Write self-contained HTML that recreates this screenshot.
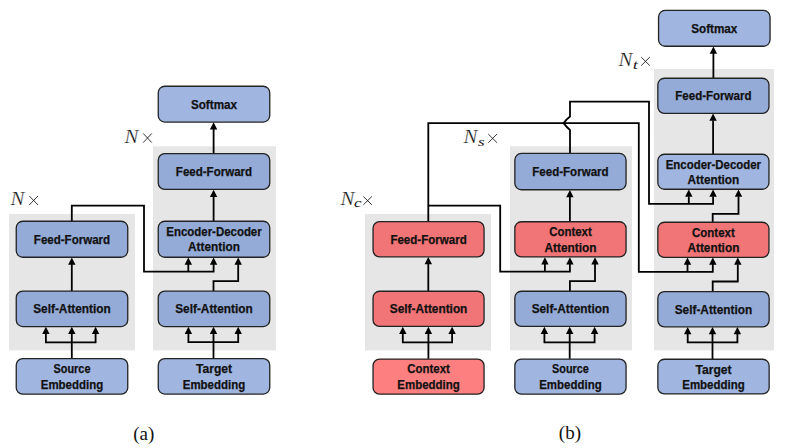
<!DOCTYPE html>
<html><head><meta charset="utf-8"><style>
html,body{margin:0;padding:0;background:#fff;}
body{width:785px;height:448px;overflow:hidden;}
svg{display:block;}
text{font-family:"Liberation Sans",sans-serif;font-weight:bold;text-anchor:middle;fill:#111;stroke:#111;stroke-width:0.25px;}
text.m{font-family:"Liberation Serif",serif;font-style:italic;font-weight:normal;text-anchor:start;fill:#111;}
text.cap{font-family:"Liberation Serif",serif;font-weight:normal;text-anchor:middle;fill:#111;stroke:none;}
</style></head><body>
<svg width="785" height="448" viewBox="0 0 785 448">
<rect width="785" height="448" fill="#fff"/>
<rect x="9" y="214" width="126.00" height="136.40" fill="#e6e6e6"/>
<rect x="153" y="146.3" width="123.00" height="204.10" fill="#e6e6e6"/>
<path d="M71.8,358.5 V334 M45.9,334 V342.4 H95.6 V334" fill="none" stroke="#000" stroke-width="1.8" stroke-linejoin="miter" stroke-linecap="butt"/>
<path d="M45.90,326.80 L42.20,334.00 L49.60,334.00 Z" fill="#000"/>
<path d="M71.80,326.80 L68.10,334.00 L75.50,334.00 Z" fill="#000"/>
<path d="M95.60,326.80 L91.90,334.00 L99.30,334.00 Z" fill="#000"/>
<path d="M71.8,291 V264" fill="none" stroke="#000" stroke-width="1.8" stroke-linejoin="miter" stroke-linecap="butt"/>
<path d="M71.80,257.50 L68.10,264.70 L75.50,264.70 Z" fill="#000"/>
<path d="M71.8,221 V205.7 H144 V271.6 H213.6 V264 M188.3,271.6 V264" fill="none" stroke="#000" stroke-width="1.8" stroke-linejoin="miter" stroke-linecap="butt"/>
<path d="M188.30,257.50 L184.60,264.70 L192.00,264.70 Z" fill="#000"/>
<path d="M213.60,257.50 L209.90,264.70 L217.30,264.70 Z" fill="#000"/>
<path d="M213.5,358.5 V334 M188.4,334 V342.2 H238.2 V334" fill="none" stroke="#000" stroke-width="1.8" stroke-linejoin="miter" stroke-linecap="butt"/>
<path d="M188.40,326.80 L184.70,334.00 L192.10,334.00 Z" fill="#000"/>
<path d="M213.50,326.80 L209.80,334.00 L217.20,334.00 Z" fill="#000"/>
<path d="M238.20,326.80 L234.50,334.00 L241.90,334.00 Z" fill="#000"/>
<path d="M213.5,291 V281.2 H238.2 V264" fill="none" stroke="#000" stroke-width="1.8" stroke-linejoin="miter" stroke-linecap="butt"/>
<path d="M238.20,257.50 L234.50,264.70 L241.90,264.70 Z" fill="#000"/>
<path d="M213.6,221 V196.5" fill="none" stroke="#000" stroke-width="1.8" stroke-linejoin="miter" stroke-linecap="butt"/>
<path d="M213.60,189.70 L209.90,196.90 L217.30,196.90 Z" fill="#000"/>
<path d="M213.6,153.4 V129" fill="none" stroke="#000" stroke-width="1.8" stroke-linejoin="miter" stroke-linecap="butt"/>
<path d="M213.60,122.30 L209.90,129.50 L217.30,129.50 Z" fill="#000"/>
<rect x="16.25" y="221.25" width="111.50" height="36.00" rx="6.5" fill="#94abd7" stroke="#222" stroke-width="1.3"/>
<text x="72.00" y="243.85" textLength="76.3" lengthAdjust="spacingAndGlyphs" font-size="12.4">Feed-Forward</text>
<rect x="16.25" y="291.05" width="111.50" height="35.50" rx="6.5" fill="#94abd7" stroke="#222" stroke-width="1.3"/>
<text x="72.00" y="313.40" textLength="77.6" lengthAdjust="spacingAndGlyphs" font-size="12.4">Self-Attention</text>
<rect x="16.25" y="358.55" width="111.50" height="35.60" rx="6.5" fill="#a0b6e0" stroke="#222" stroke-width="1.3"/>
<text x="72.00" y="372.80" textLength="36.9" lengthAdjust="spacingAndGlyphs" font-size="12.4">Source</text>
<text x="72.00" y="388.70" textLength="62.5" lengthAdjust="spacingAndGlyphs" font-size="12.4">Embedding</text>
<rect x="158.25" y="86.25" width="111.50" height="35.80" rx="6.5" fill="#a0b6e0" stroke="#222" stroke-width="1.3"/>
<text x="214.00" y="108.75" textLength="46.2" lengthAdjust="spacingAndGlyphs" font-size="12.4">Softmax</text>
<rect x="158.25" y="153.55" width="111.50" height="35.90" rx="6.5" fill="#94abd7" stroke="#222" stroke-width="1.3"/>
<text x="214.00" y="176.10" textLength="76.3" lengthAdjust="spacingAndGlyphs" font-size="12.4">Feed-Forward</text>
<rect x="158.25" y="221.25" width="111.50" height="36.00" rx="6.5" fill="#94abd7" stroke="#222" stroke-width="1.3"/>
<text x="214.00" y="235.50" textLength="95.4" lengthAdjust="spacingAndGlyphs" font-size="12.4">Encoder-Decoder</text>
<text x="214.00" y="251.40" textLength="51.8" lengthAdjust="spacingAndGlyphs" font-size="12.4">Attention</text>
<rect x="158.25" y="291.15" width="111.50" height="35.40" rx="6.5" fill="#94abd7" stroke="#222" stroke-width="1.3"/>
<text x="214.00" y="313.45" textLength="77.6" lengthAdjust="spacingAndGlyphs" font-size="12.4">Self-Attention</text>
<rect x="158.25" y="358.65" width="111.50" height="35.40" rx="6.5" fill="#a0b6e0" stroke="#222" stroke-width="1.3"/>
<text x="214.00" y="372.90" textLength="36.0" lengthAdjust="spacingAndGlyphs" font-size="12.4">Target</text>
<text x="214.00" y="388.80" textLength="62.5" lengthAdjust="spacingAndGlyphs" font-size="12.4">Embedding</text>
<rect x="365" y="214" width="126.00" height="136.40" fill="#e6e6e6"/>
<rect x="510" y="146.3" width="122.00" height="204.10" fill="#e6e6e6"/>
<rect x="654" y="69" width="120.00" height="281.40" fill="#e6e6e6"/>
<path d="M428.4,358.8 V334 M402.8,334 V342.4 H452.1 V334" fill="none" stroke="#000" stroke-width="1.8" stroke-linejoin="miter" stroke-linecap="butt"/>
<path d="M402.80,326.70 L399.10,333.90 L406.50,333.90 Z" fill="#000"/>
<path d="M428.40,326.70 L424.70,333.90 L432.10,333.90 Z" fill="#000"/>
<path d="M452.10,326.70 L448.40,333.90 L455.80,333.90 Z" fill="#000"/>
<path d="M428.3,291 V264" fill="none" stroke="#000" stroke-width="1.8" stroke-linejoin="miter" stroke-linecap="butt"/>
<path d="M428.30,257.10 L424.60,264.30 L432.00,264.30 Z" fill="#000"/>
<path d="M428.3,221.4 V123.1 H638.8 V271.8 H712.8 V264 M687.5,271.8 V264" fill="none" stroke="#000" stroke-width="1.8" stroke-linejoin="miter" stroke-linecap="butt"/>
<path d="M687.50,257.60 L683.80,264.80 L691.20,264.80 Z" fill="#000"/>
<path d="M712.80,257.60 L709.10,264.80 L716.50,264.80 Z" fill="#000"/>
<path d="M428.3,205.7 H500.2 V271.7 H569.9 V264 M544.9,271.7 V264" fill="none" stroke="#000" stroke-width="1.8" stroke-linejoin="miter" stroke-linecap="butt"/>
<path d="M544.90,257.20 L541.20,264.40 L548.60,264.40 Z" fill="#000"/>
<path d="M569.90,257.20 L566.20,264.40 L573.60,264.40 Z" fill="#000"/>
<path d="M569.7,358.8 V334 M544.4,334 V342.4 H594.6 V334" fill="none" stroke="#000" stroke-width="1.8" stroke-linejoin="miter" stroke-linecap="butt"/>
<path d="M544.40,326.70 L540.70,333.90 L548.10,333.90 Z" fill="#000"/>
<path d="M569.70,326.70 L566.00,333.90 L573.40,333.90 Z" fill="#000"/>
<path d="M594.60,326.70 L590.90,333.90 L598.30,333.90 Z" fill="#000"/>
<path d="M569.9,291.2 V281.1 H595.0 V264" fill="none" stroke="#000" stroke-width="1.8" stroke-linejoin="miter" stroke-linecap="butt"/>
<path d="M595.00,257.20 L591.30,264.40 L598.70,264.40 Z" fill="#000"/>
<path d="M569.9,221.5 V197" fill="none" stroke="#000" stroke-width="1.8" stroke-linejoin="miter" stroke-linecap="butt"/>
<path d="M569.90,190.00 L566.20,197.20 L573.60,197.20 Z" fill="#000"/>
<path d="M570,153.2 V130 Q566.5,127 563.6,123.1 Q566.5,119.2 570,116.5 V101.7 H649 V203.8 H713.1 V196.5 M688.8,203.8 V196.5" fill="none" stroke="#000" stroke-width="1.8" stroke-linejoin="miter" stroke-linecap="butt"/>
<path d="M688.80,189.50 L685.10,196.70 L692.50,196.70 Z" fill="#000"/>
<path d="M713.10,189.50 L709.40,196.70 L716.80,196.70 Z" fill="#000"/>
<path d="M712.5,359 V334 M687.7,334 V342.4 H737.4 V334" fill="none" stroke="#000" stroke-width="1.8" stroke-linejoin="miter" stroke-linecap="butt"/>
<path d="M687.70,327.10 L684.00,334.30 L691.40,334.30 Z" fill="#000"/>
<path d="M712.50,327.10 L708.80,334.30 L716.20,334.30 Z" fill="#000"/>
<path d="M737.40,327.10 L733.70,334.30 L741.10,334.30 Z" fill="#000"/>
<path d="M712.7,291.4 V281.5 H737.8 V264.5" fill="none" stroke="#000" stroke-width="1.8" stroke-linejoin="miter" stroke-linecap="butt"/>
<path d="M737.80,257.60 L734.10,264.80 L741.50,264.80 Z" fill="#000"/>
<path d="M712.7,222 V213.8 H738.5 V196.5" fill="none" stroke="#000" stroke-width="1.8" stroke-linejoin="miter" stroke-linecap="butt"/>
<path d="M738.50,189.50 L734.80,196.70 L742.20,196.70 Z" fill="#000"/>
<path d="M713.1,154 V120.5" fill="none" stroke="#000" stroke-width="1.8" stroke-linejoin="miter" stroke-linecap="butt"/>
<path d="M713.10,113.60 L709.40,120.80 L716.80,120.80 Z" fill="#000"/>
<path d="M713.4,78 V53" fill="none" stroke="#000" stroke-width="1.8" stroke-linejoin="miter" stroke-linecap="butt"/>
<path d="M713.40,46.60 L709.70,53.80 L717.10,53.80 Z" fill="#000"/>
<rect x="373.05" y="221.65" width="111.00" height="35.20" rx="6.5" fill="#f17476" stroke="#222" stroke-width="1.3"/>
<text x="428.55" y="243.85" textLength="76.3" lengthAdjust="spacingAndGlyphs" font-size="12.4">Feed-Forward</text>
<rect x="373.05" y="291.25" width="111.00" height="35.20" rx="6.5" fill="#f17476" stroke="#222" stroke-width="1.3"/>
<text x="428.55" y="313.45" textLength="77.6" lengthAdjust="spacingAndGlyphs" font-size="12.4">Self-Attention</text>
<rect x="373.05" y="359.05" width="111.00" height="35.10" rx="6.5" fill="#fd7f80" stroke="#222" stroke-width="1.3"/>
<text x="428.55" y="373.30" textLength="42.6" lengthAdjust="spacingAndGlyphs" font-size="12.4">Context</text>
<text x="428.55" y="389.20" textLength="62.5" lengthAdjust="spacingAndGlyphs" font-size="12.4">Embedding</text>
<rect x="514.85" y="153.45" width="111.20" height="36.30" rx="6.5" fill="#94abd7" stroke="#222" stroke-width="1.3"/>
<text x="570.45" y="176.20" textLength="76.3" lengthAdjust="spacingAndGlyphs" font-size="12.4">Feed-Forward</text>
<rect x="514.85" y="221.75" width="111.20" height="35.20" rx="6.5" fill="#f17476" stroke="#222" stroke-width="1.3"/>
<text x="570.45" y="236.00" textLength="42.6" lengthAdjust="spacingAndGlyphs" font-size="12.4">Context</text>
<text x="570.45" y="251.90" textLength="52.0" lengthAdjust="spacingAndGlyphs" font-size="12.4">Attention</text>
<rect x="514.85" y="291.25" width="111.20" height="35.20" rx="6.5" fill="#94abd7" stroke="#222" stroke-width="1.3"/>
<text x="570.45" y="313.45" textLength="77.6" lengthAdjust="spacingAndGlyphs" font-size="12.4">Self-Attention</text>
<rect x="514.85" y="359.05" width="111.20" height="35.10" rx="6.5" fill="#a0b6e0" stroke="#222" stroke-width="1.3"/>
<text x="570.45" y="373.30" textLength="36.9" lengthAdjust="spacingAndGlyphs" font-size="12.4">Source</text>
<text x="570.45" y="389.20" textLength="62.5" lengthAdjust="spacingAndGlyphs" font-size="12.4">Embedding</text>
<rect x="658.55" y="10.45" width="111.50" height="35.80" rx="6.5" fill="#a0b6e0" stroke="#222" stroke-width="1.3"/>
<text x="714.30" y="32.95" textLength="46.2" lengthAdjust="spacingAndGlyphs" font-size="12.4">Softmax</text>
<rect x="657.85" y="78.25" width="111.10" height="35.10" rx="6.5" fill="#94abd7" stroke="#222" stroke-width="1.3"/>
<text x="713.40" y="100.40" textLength="76.3" lengthAdjust="spacingAndGlyphs" font-size="12.4">Feed-Forward</text>
<rect x="657.85" y="154.25" width="111.10" height="35.00" rx="6.5" fill="#a0b6e0" stroke="#222" stroke-width="1.3"/>
<text x="713.40" y="168.50" textLength="95.4" lengthAdjust="spacingAndGlyphs" font-size="12.4">Encoder-Decoder</text>
<text x="713.40" y="184.40" textLength="51.8" lengthAdjust="spacingAndGlyphs" font-size="12.4">Attention</text>
<rect x="657.85" y="222.25" width="111.10" height="35.10" rx="6.5" fill="#f17476" stroke="#222" stroke-width="1.3"/>
<text x="713.40" y="236.50" textLength="42.6" lengthAdjust="spacingAndGlyphs" font-size="12.4">Context</text>
<text x="713.40" y="252.40" textLength="52.0" lengthAdjust="spacingAndGlyphs" font-size="12.4">Attention</text>
<rect x="657.85" y="291.65" width="111.30" height="35.20" rx="6.5" fill="#94abd7" stroke="#222" stroke-width="1.3"/>
<text x="713.50" y="313.85" textLength="77.6" lengthAdjust="spacingAndGlyphs" font-size="12.4">Self-Attention</text>
<rect x="657.85" y="359.25" width="111.30" height="34.70" rx="6.5" fill="#a0b6e0" stroke="#222" stroke-width="1.3"/>
<text x="713.50" y="373.50" textLength="36.0" lengthAdjust="spacingAndGlyphs" font-size="12.4">Target</text>
<text x="713.50" y="389.40" textLength="62.5" lengthAdjust="spacingAndGlyphs" font-size="12.4">Embedding</text>
<text class="m" transform="translate(10.50,205.40) scale(1.1,1)" x="0" y="0" style="font-size:19px;stroke:#fff;stroke-width:0.25px">N</text>
<path d="M29.2,195.9 L38.1,205.0 M29.2,205.0 L38.1,195.9" stroke="#111" stroke-width="0.85" fill="none"/>
<text class="m" transform="translate(124.60,142.90) scale(1.1,1)" x="0" y="0" style="font-size:19px;stroke:#fff;stroke-width:0.25px">N</text>
<path d="M143.2,133.4 L151.8,142.6 M143.2,142.6 L151.8,133.4" stroke="#111" stroke-width="0.85" fill="none"/>
<text class="m" transform="translate(340.60,205.00) scale(1.1,1)" x="0" y="0" style="font-size:19px;stroke:#fff;stroke-width:0.25px">N</text>
<text class="m" transform="translate(354.00,207.40) scale(1.3,1)" x="0" y="0" style="font-size:13px;stroke:none">c</text>
<path d="M363.4,196.5 L371.8,204.8 M363.4,204.8 L371.8,196.5" stroke="#111" stroke-width="0.85" fill="none"/>
<text class="m" transform="translate(463.40,143.10) scale(1.1,1)" x="0" y="0" style="font-size:19px;stroke:#fff;stroke-width:0.25px">N</text>
<text class="m" transform="translate(478.00,145.80) scale(1.3,1)" x="0" y="0" style="font-size:13px;stroke:none">s</text>
<path d="M488.3,134.1 L497.0,142.7 M488.3,142.7 L497.0,134.1" stroke="#111" stroke-width="0.85" fill="none"/>
<text class="m" transform="translate(618.60,65.80) scale(1.1,1)" x="0" y="0" style="font-size:19px;stroke:#fff;stroke-width:0.25px">N</text>
<text class="m" transform="translate(633.00,68.80) scale(1.3,1)" x="0" y="0" style="font-size:13px;stroke:none">t</text>
<path d="M641.2,57.1 L649.8,65.6 M641.2,65.6 L649.8,57.1" stroke="#111" stroke-width="0.85" fill="none"/>
<text class="cap" x="143.7" y="440.4" font-size="19">(a)</text>
<text class="cap" x="569.9" y="438.6" font-size="19">(b)</text>
</svg>
</body></html>
